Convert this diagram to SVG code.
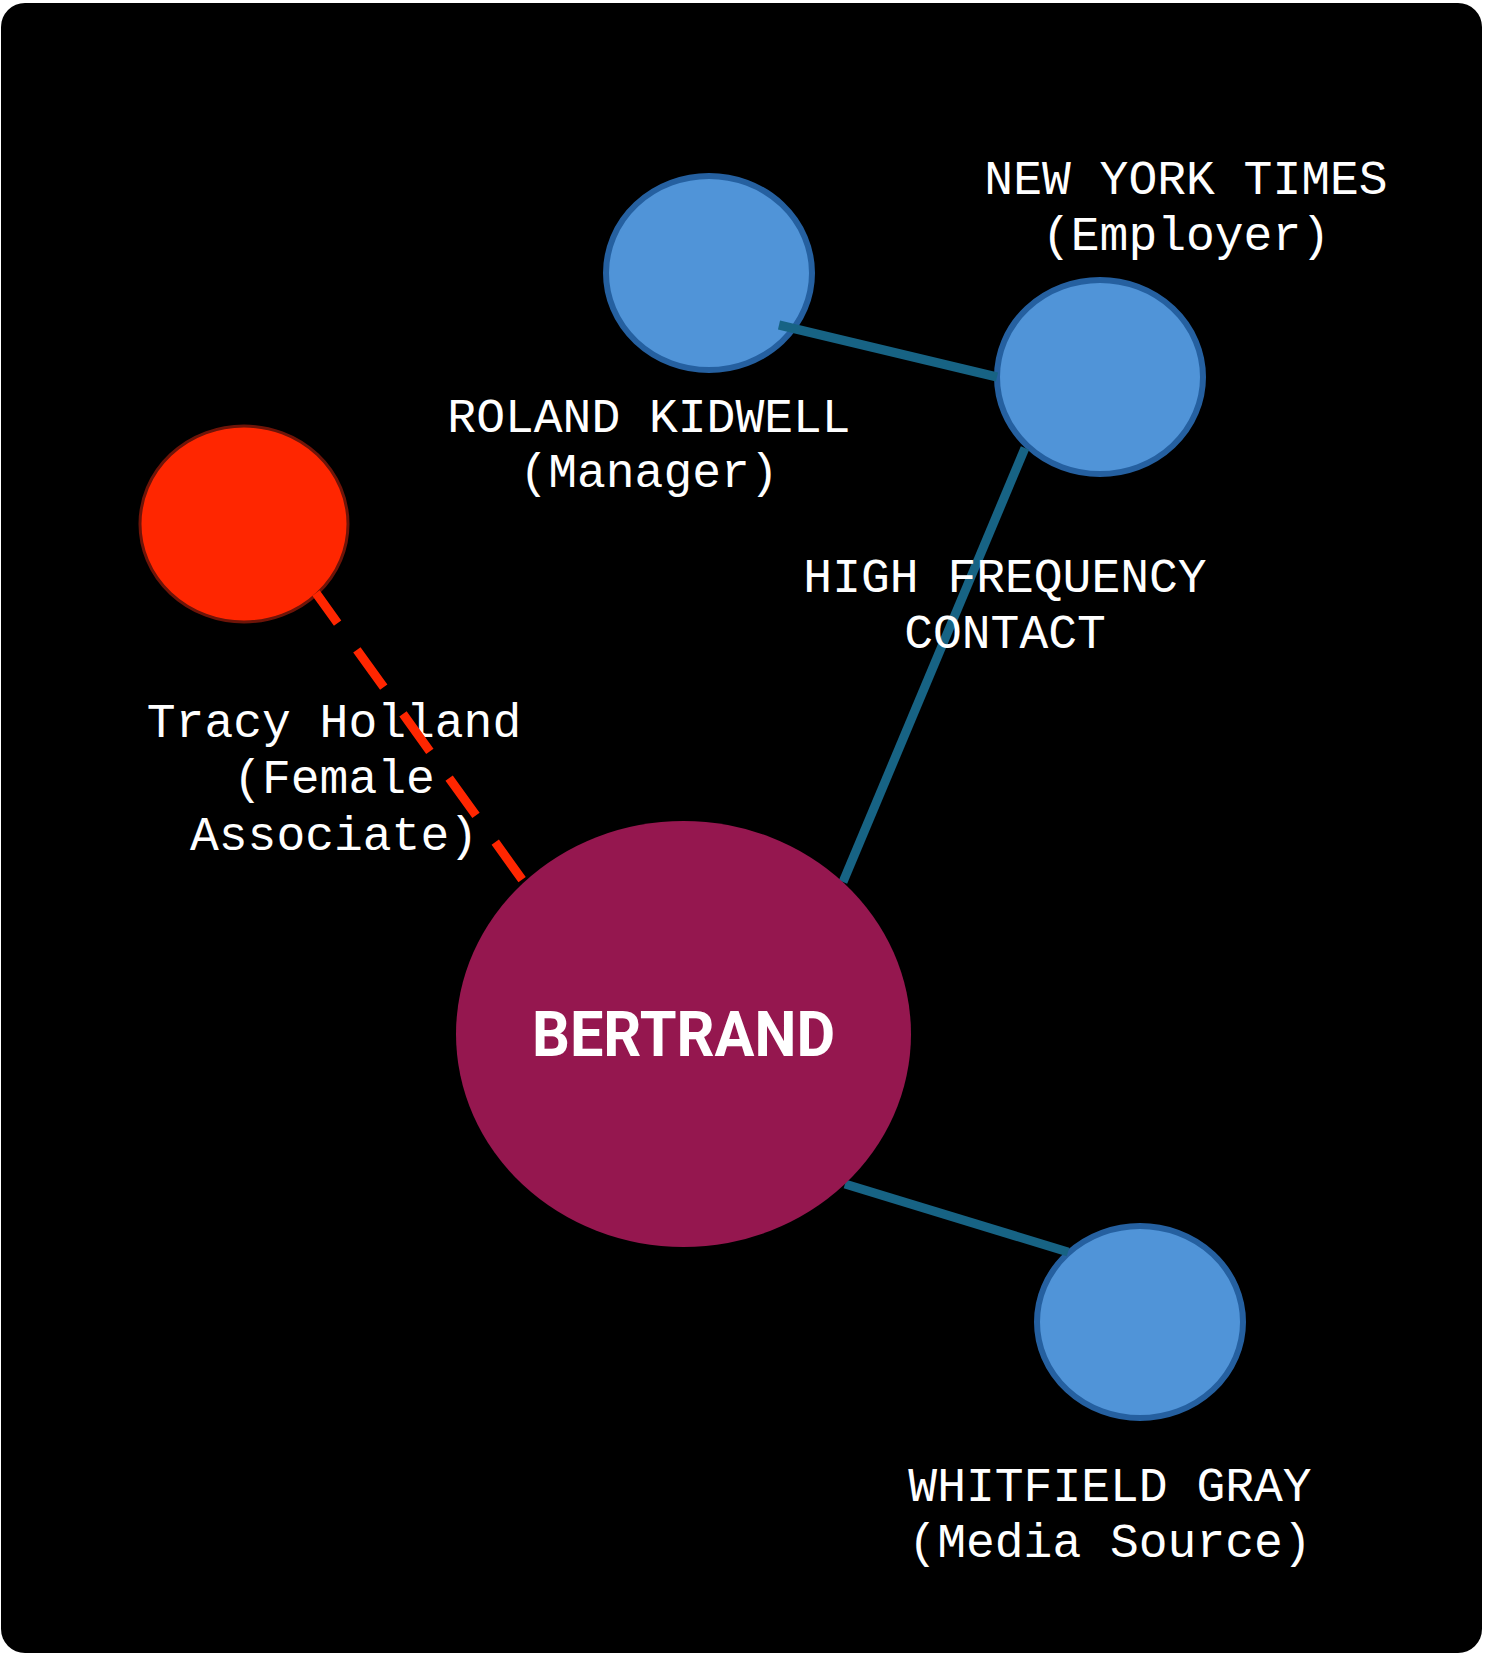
<svg xmlns="http://www.w3.org/2000/svg" width="1485" height="1654" viewBox="0 0 1485 1654">
  <style>
    .lbl { font-family: "Liberation Mono", "DejaVu Sans Mono", monospace; font-size: 48px; fill: #ffffff; text-anchor: middle; }
    .blue { fill: #5094d8; stroke: #2560a0; stroke-width: 6; }
    .link { stroke: #176384; stroke-width: 9; fill: none; stroke-linecap: butt; }
    .dash { stroke: #ff2600; stroke-width: 9; fill: none; stroke-dasharray: 46 33; stroke-dashoffset: 9; }
  </style>
  <rect x="0" y="0" width="1485" height="1654" fill="#ffffff"/>
  <rect x="1" y="3" width="1481" height="1650" rx="24" ry="24" fill="#000000"/>

  <g id="node-roland">
    <ellipse class="blue" cx="709" cy="273" rx="103" ry="97"/>
    <text class="lbl" x="649" y="432">ROLAND KIDWELL</text>
    <text class="lbl" x="649" y="487">(Manager)</text>
  </g>
  <g id="node-nyt">
    <ellipse class="blue" cx="1100" cy="377" rx="103" ry="97"/>
    <text class="lbl" x="1186" y="194">NEW YORK TIMES</text>
    <text class="lbl" x="1186" y="250">(Employer)</text>
  </g>
  <g id="node-tracy">
    <ellipse cx="244" cy="524" rx="104" ry="98" fill="#ff2600" stroke="#6e1408" stroke-width="3"/>
    <text class="lbl" x="334" y="737">Tracy Holland</text>
    <text class="lbl" x="334" y="793">(Female</text>
    <text class="lbl" x="334" y="850">Associate)</text>
  </g>
  <g id="node-whitfield">
    <ellipse class="blue" cx="1140" cy="1322" rx="103" ry="96"/>
    <text class="lbl" x="1110" y="1501">WHITFIELD GRAY</text>
    <text class="lbl" x="1110" y="1557">(Media Source)</text>
  </g>

  <g id="connectors">
    <line class="dash" x1="316" y1="593" x2="526" y2="885"/>
    <line class="link" x1="779" y1="325" x2="997" y2="377"/>
    <line class="link" x1="1025" y1="448" x2="843" y2="882"/>
    <line class="link" x1="845" y1="1184" x2="1068" y2="1252"/>
  </g>
  <g id="edge-label">
    <text class="lbl" x="1005" y="592">HIGH FREQUENCY</text>
    <text class="lbl" x="1005" y="648">CONTACT</text>
  </g>

  <g id="node-bertrand">
    <ellipse cx="683.5" cy="1034" rx="227.5" ry="213" fill="#95174f"/>
    <text x="683.5" y="1056" font-family="Roboto, 'Liberation Sans', sans-serif" font-weight="bold" font-size="63" fill="#ffffff" text-anchor="middle" textLength="303" lengthAdjust="spacingAndGlyphs">BERTRAND</text>
  </g>
</svg>
